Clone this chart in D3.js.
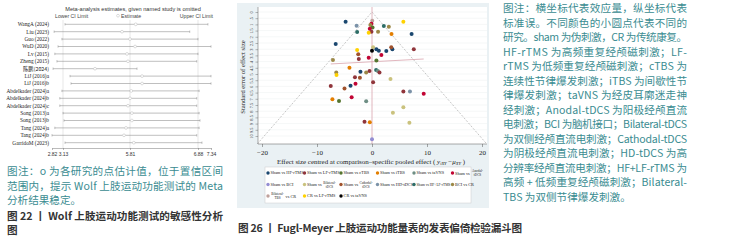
<!DOCTYPE html>
<html>
<head>
<meta charset="utf-8">
<script src="https://cdn.jsdelivr.net/npm/d3@7"></script>
<style>
  body { margin: 0; background: #fff; }
  svg { display: block; }
  .cjk { font-family: "Noto Sans CJK SC", "Noto Sans", sans-serif; }
  .serif { font-family: "Liberation Serif", "DejaVu Serif", serif; }
  .sans { font-family: "Liberation Sans", Arial, sans-serif; }
</style>
</head>
<body>
<svg id="chart"></svg>
<script>
// ---- left: sensitivity analysis (Wolf) ----
let studies = ["WangA (2024)", "Liu (2023)", "Guo (2022)", "WuD (2020)", "Lv (2015)", "Zheng (2015)", "陈鹏(2024)",
  "LiJ (2016)a", "LiJ (2016)b", "Abdelkader (2024)a", "Abdelkader (2024)b", "Abdelkader (2024)c",
  "Song (2013)a", "Song (2013)b", "Tang (2024)a", "Tang (2024)b", "GarridoM (2023)"]
let estimates = [5.90, 5.49, 5.81, 5.89, 5.69, 5.73, 4.41, 6.00, 6.00, 5.83, 5.81, 5.73, 5.84, 5.84, 5.65, 5.57, 5.87]
let lowerCI = [3.21, 2.88, 3.10, 2.99, 2.90, 2.96, 2.85, 3.41, 3.45, 3.10, 3.04, 3.04, 3.13, 3.17, 2.90, 2.82, 3.21]
let upperCI = [7.23, 6.75, 6.88, 7.34, 6.88, 6.86, 5.92, 7.34, 7.34, 6.92, 6.86, 6.86, 6.92, 6.95, 6.92, 6.86, 7.02]
let sensTicks = [2.82, 3.13, 5.81, 6.88, 7.34]
let sensRefs = [3.13, 5.81, 6.88]

// ---- middle: comparison-adjusted funnel plot (Fugl-Meyer) ----
let groups = ["Sham vs HF-rTMS", "Sham vs LF-rTMS", "Sham vs cTBS", "Sham vs iTBS", "Sham vs taVNS", "Sham vs Anodal-tDCS",
  "Sham vs BCI", "Sham vs Bilateral-tDCS", "Sham vs Cathodal-tDCS", "Sham vs HD-tDCS", "Sham vs HF+LF-rTMS", "BCI vs CR",
  "Bilateral-TBS vs CR", "CR vs LF-rTMS", "CR vs taVNS"]
let groupColors = ["#1a476f", "#90353b", "#55752f", "#e37e00", "#6e8e84", "#c10534", "#938dd2", "#cac27e",
  "#a0522d", "#7b92a8", "#2d6d66", "#9c8847", "#bfa19c", "#ffd200", "#000000"]
let effect = [-4.8, -2.8, -2.7, 0.05, -0.1, -0.3, 0.1, -0.4, -0.1, -0.6, 2.15, 3.06, 5.7, 1.1, 3.55, 7.2,
  -6.6, -2.7, -2.5, -2.4, -0.6, 0.2, 0, 0.8, 1.24, 2.6, 3.7, 3.5, 1.7, 7.6, -7.1, 0.8, -4.1, -6.5, -6.45,
  -2.1, -1.06, -0.45, 0.75, 1.06, 1.36, -3.1, -2.2, 3.36, 0.2, -7.5, -5.0, -3.9, -3.0, 5.7, 6.9, 9.4,
  -7.2, -6.0, -3.7, -1.06, 5.7, 3.8, -1.36, -0.4, 6.8, 0]
let stdErr = [0.78, 1.10, 1.61, 0.70, 0.95, 1.05, 1.25, 1.35, 1.6, 1.67, 1.13, 1.18, 0.78, 1.59, 1.77, 1.77,
  2.58, 3.06, 3.4, 3.79, 3.68, 2.85, 3.12, 3.0, 3.12, 3.15, 3.0, 2.85, 3.47, 3.0, 3.87, 3.92, 4.49, 4.87, 5.08,
  4.81, 4.87, 4.76, 4.68, 4.76, 4.87, 5.27, 5.3, 5.4, 5.67, 5.97, 6.16, 5.94, 5.78, 6.42, 6.42, 6.59,
  7.04, 7.18, 6.88, 7.2, 7.69, 8.12, 8.85, 8.9, 8.93, 10.27]
let group = [0, 9, 10, 12, 5, 11, 2, 5, 1, 13, 10, 11, 13, 11, 3, 0,
  0, 13, 8, 1, 5, 7, 14, 0, 0, 0, 0, 8, 5, 1, 11, 2, 3, 11, 13,
  0, 11, 1, 10, 4, 1, 1, 8, 7, 1, 1, 8, 0, 5, 1, 9, 5,
  3, 2, 5, 4, 7, 7, 1, 3, 7, 6]
let regX = [-7.5, 9.4]
let regSE = [4.19, 3.79]
let xTicks = [-20, -10, 0, 10, 20]
let yTicks = d3.range(0, 10.01, 0.5)

// ---- captions ----
let capLeft = ["图注：o 为各研究的点估计值，位于置信区间", "范围内，提示 Wolf 上肢运动功能测试的 Meta", "分析结果稳定。"]
let titleLeft = ["图 22 丨 Wolf 上肢运动功能测试的敏感性分析", "图"]
let titleMid = "图 26 丨 Fugl-Meyer 上肢运动功能量表的发表偏倚检验漏斗图"
let capRight = ["图注：横坐标代表效应量，纵坐标代表", "标准误。不同颜色的小圆点代表不同的",
  "研究。sham 为伪刺激，CR 为传统康复。", "HF-rTMS 为高频重复经颅磁刺激；LF-",
  "rTMS 为低频重复经颅磁刺激；cTBS 为", "连续性节律爆发刺激；iTBS 为间歇性节",
  "律爆发刺激；taVNS 为经皮耳廓迷走神", "经刺激；Anodal-tDCS 为阳极经颅直流",
  "电刺激；BCI 为脑机接口；Bilateral-tDCS", "为双侧经颅直流电刺激；Cathodal-tDCS",
  "为阴极经颅直流电刺激；HD-tDCS 为高", "分辨率经颅直流电刺激；HF+LF-rTMS 为",
  "高频 + 低频重复经颅磁刺激；Bilateral-", "TBS 为双侧节律爆发刺激。"]

let width = 739
let height = 240
let teal = "#3a8c91"
let svg = d3.select('#chart').attr("width", width).attr("height", height)

let drawSensitivity = () => {
  let g = svg.append("g")
  let x = d3.scaleLinear().domain(sensTicks).range([52, 63, 130, 198, 211])
  let y = d3.scalePoint().domain(studies).range([24.3, 142.7])

  g.append("text").attr("class", "sans").attr("x", 133).attr("y", 11).attr("text-anchor", "middle")
    .attr("font-size", 5.6).attr("fill", "#333").text("Meta-analysis estimates, given named study is omitted")
  g.append("text").attr("class", "sans").attr("x", 55).attr("y", 17.5).attr("font-size", 5.2).attr("fill", "#444").text("Lower CI Limit")
  g.append("circle").attr("cx", 118).attr("cy", 15.7).attr("r", 1.4).attr("fill", "none").attr("stroke", "#bbb").attr("stroke-width", 0.5)
  g.append("text").attr("class", "sans").attr("x", 121).attr("y", 17.5).attr("font-size", 5.2).attr("fill", "#444").text("Estimate")
  g.append("text").attr("class", "sans").attr("x", 213).attr("y", 17.5).attr("text-anchor", "end").attr("font-size", 5.2).attr("fill", "#444").text("Upper CI Limit")

  g.selectAll(".ref").data(sensRefs).enter().append("line")
    .attr("x1", d => x(d)).attr("x2", d => x(d)).attr("y1", 20).attr("y2", 148)
    .attr("stroke", "#ccc").attr("stroke-width", 0.5)

  g.selectAll(".lab").data(studies).enter().append("text")
    .attr("class", (d, i) => i === 6 ? "cjk" : "serif")
    .attr("x", 49).attr("y", d => y(d) + 1.8).attr("text-anchor", "end")
    .attr("font-size", 5.3).attr("fill", "#222").text(d => d)

  let rows = g.selectAll(".row").data(studies).enter().append("g")
  rows.append("line").attr("x1", (d, i) => x(lowerCI[i])).attr("x2", (d, i) => x(upperCI[i]))
    .attr("y1", d => y(d)).attr("y2", d => y(d)).attr("stroke", "#8a8a8a").attr("stroke-width", 0.55)
  rows.append("line").attr("x1", (d, i) => x(lowerCI[i])).attr("x2", (d, i) => x(lowerCI[i]))
    .attr("y1", d => y(d) - 1.2).attr("y2", d => y(d) + 1.2).attr("stroke", "#8a8a8a").attr("stroke-width", 0.5)
  rows.append("line").attr("x1", (d, i) => x(upperCI[i])).attr("x2", (d, i) => x(upperCI[i]))
    .attr("y1", d => y(d) - 1.2).attr("y2", d => y(d) + 1.2).attr("stroke", "#8a8a8a").attr("stroke-width", 0.5)
  rows.append("circle").attr("cx", (d, i) => x(estimates[i])).attr("cy", d => y(d)).attr("r", 1.4)
    .attr("fill", "#fff").attr("stroke", "#bbb").attr("stroke-width", 0.5)

  let ax = g.append("g").attr("transform", "translate(0,148)")
    .call(d3.axisBottom(x).tickValues(sensTicks).tickSize(2).tickSizeOuter(0).tickFormat(d3.format(".2f")))
  ax.select(".domain").attr("stroke", "#777").attr("stroke-width", 0.5)
  ax.selectAll(".tick line").attr("stroke", "#777").attr("stroke-width", 0.5)
  ax.selectAll("text").attr("class", "sans").attr("font-size", 5).attr("fill", "#333").attr("dy", "0.5em")
}

let drawFunnel = () => {
  let g = svg.append("g")
  g.append("rect").attr("x", 237).attr("y", 3).attr("width", 252).attr("height", 205).attr("fill", "#eaf1f4")
  g.append("rect").attr("x", 258).attr("y", 7).attr("width", 229).attr("height", 137).attr("fill", "#fff")

  let x = d3.scaleLinear().domain([-20, 20]).range([262, 482])
  let y = d3.scaleLinear().domain([0, 10]).range([12, 136])
  let seMax = y.invert(144)

  g.selectAll(".grid").data(yTicks).enter().append("line")
    .attr("x1", 258).attr("x2", 487).attr("y1", d => y(d)).attr("y2", d => y(d))
    .attr("stroke", "#eef1f2").attr("stroke-width", 0.6)

  let funnel = [[-1.96 * seMax, seMax], [0, 0], [1.96 * seMax, seMax]]
  g.append("path").attr("d", d3.line().x(d => x(d[0])).y(d => y(d[1]))(funnel))
    .attr("fill", "none").attr("stroke", "#a0a0a0").attr("stroke-width", 0.6).attr("stroke-dasharray", "2,1.5")
  g.append("line").attr("x1", x(0)).attr("x2", x(0)).attr("y1", 7).attr("y2", 144)
    .attr("stroke", "#d9a3ad").attr("stroke-width", 0.8)
  g.append("line").attr("x1", x(regX[0])).attr("x2", x(regX[1])).attr("y1", y(regSE[0])).attr("y2", y(regSE[1]))
    .attr("stroke", "#d9a3ad").attr("stroke-width", 0.8)

  g.selectAll(".pt").data(effect).enter().append("circle")
    .attr("cx", d => x(d)).attr("cy", (d, i) => y(stdErr[i])).attr("r", 2)
    .attr("fill", (d, i) => groupColors[group[i]])

  let xa = g.append("g").attr("transform", "translate(0,144)")
    .call(d3.axisBottom(x).tickValues(xTicks).tickSize(3).tickSizeOuter(0))
  xa.select(".domain").attr("d", "M258,0H487").attr("stroke", "#555").attr("stroke-width", 0.5)
  xa.selectAll(".tick line").attr("stroke", "#555").attr("stroke-width", 0.5)
  xa.selectAll("text").attr("class", "serif").attr("font-size", 7).attr("fill", "#222")
    .text(d => d < 0 ? "\u2212" + Math.abs(d) : d)

  let ya = g.append("g").attr("transform", "translate(258,0)")
    .call(d3.axisLeft(y).tickValues(yTicks).tickSize(2.5).tickSizeOuter(0)
      .tickFormat(d => d === 0 ? "0" : (d < 1 ? ".5" : d3.format("")(d))))
  ya.select(".domain").attr("d", "M0,7V144").attr("stroke", "#555").attr("stroke-width", 0.5)
  ya.selectAll(".tick line").attr("stroke", "#555").attr("stroke-width", 0.4)
  ya.selectAll("text").attr("class", "serif").attr("font-size", 4.4).attr("fill", "#333")
    .attr("x", 0).attr("dy", 0).attr("text-anchor", "middle").attr("transform", "translate(-5,0) rotate(-90)")

  g.append("text").attr("class", "serif").attr("transform", "translate(245,77) rotate(-90)")
    .attr("text-anchor", "middle").attr("font-size", 6.6).attr("fill", "#222").text("Standard error of effect size")

  let xt = g.append("text").attr("class", "serif").attr("x", 371).attr("y", 163.5).attr("text-anchor", "middle")
    .attr("font-size", 6.9).attr("fill", "#222")
  xt.append("tspan").text("Effect size centred at comparison\u2013specific pooled effect ( ")
  xt.append("tspan").attr("font-style", "italic").text("y")
  xt.append("tspan").attr("font-style", "italic").attr("font-size", 4.5).attr("dy", 1.5).text("iXY")
  xt.append("tspan").attr("dy", -1.5).text(" \u2212")
  xt.append("tspan").attr("font-style", "italic").text("\u03bc")
  xt.append("tspan").attr("font-style", "italic").attr("font-size", 4.5).attr("dy", 1.5).text("XY")
  xt.append("tspan").attr("dy", -1.5).text(" )")

  // legend
  g.append("rect").attr("x", 265).attr("y", 167).attr("width", 206).attr("height", 36)
    .attr("fill", "#fff").attr("stroke", "#ccc").attr("stroke-width", 0.5)
  let colX = [268, 304.5, 341, 377.5, 414, 452.5]
  let stacked = { 5: ["Anodal-", "tDCS"], 7: ["Bilateral-", "tDCS"], 8: ["Cathodal-", "tDCS"], 12: ["Bilateral-", "TBS"] }
  let items = g.selectAll(".leg").data(groups).enter().append("g")
    .attr("transform", (d, i) => "translate(" + colX[i % 6] + "," + (173 + Math.floor(i / 6) * 11.5) + ")")
  items.append("circle").attr("r", 1.7).attr("fill", (d, i) => groupColors[i])
  items.each(function (d, i) {
    let it = d3.select(this)
    let st = stacked[i]
    if (!st) {
      it.append("text").attr("class", "serif").attr("x", 2.6).attr("y", 1.4)
        .attr("font-size", d.length > 15 ? 3.6 : 4.3).attr("fill", "#222").text(d)
    } else if (i === 12) {
      it.append("text").attr("class", "serif").attr("x", 9.5).attr("y", -0.6).attr("text-anchor", "middle").attr("font-size", 3.3).attr("fill", "#222").text(st[0])
      it.append("text").attr("class", "serif").attr("x", 9.5).attr("y", 3.2).attr("text-anchor", "middle").attr("font-size", 3.3).attr("fill", "#222").text(st[1])
      it.append("text").attr("class", "serif").attr("x", 17.5).attr("y", 1.5).attr("font-size", 4.3).attr("fill", "#222").text("vs CR")
    } else {
      it.append("text").attr("class", "serif").attr("x", 2.6).attr("y", 1.5).attr("font-size", 4.3).attr("fill", "#222").text("Sham vs")
      it.append("text").attr("class", "serif").attr("x", 25).attr("y", -0.6).attr("text-anchor", "middle").attr("font-size", 3.3).attr("fill", "#222").text(st[0])
      it.append("text").attr("class", "serif").attr("x", 25).attr("y", 3.2).attr("text-anchor", "middle").attr("font-size", 3.3).attr("fill", "#222").text(st[1])
    }
  })
}

let drawCaptions = () => {
  let block = (lines, x0, y0, step, w, color, weight, justifyAll) => {
    svg.selectAll(null).data(lines).enter().append("text").attr("class", "cjk")
      .attr("x", x0).attr("y", (d, i) => y0 + i * step + 4)
      .attr("font-size", 10.6).attr("font-weight", weight).attr("fill", color)
      .each(function (d, i) {
        if (i < lines.length - 1 || justifyAll) d3.select(this).attr("textLength", w).attr("lengthAdjust", "spacing")
      })
      .text(d => d)
  }
  block(capLeft.slice(0, 2), 7, 171, 14.5, 216, teal, 400, true)
  block([capLeft[2]], 7, 200, 14.5, 0, teal, 400, false)
  block(titleLeft, 7, 215.5, 14, 216, "#333", 700, false)
  block([titleMid], 238, 228, 14, 284, "#333", 700, true)
  block(capRight, 503, 8, 14.5, 184, teal, 400, false)
}

drawSensitivity()
drawFunnel()
drawCaptions()
</script>
</body>
</html>
